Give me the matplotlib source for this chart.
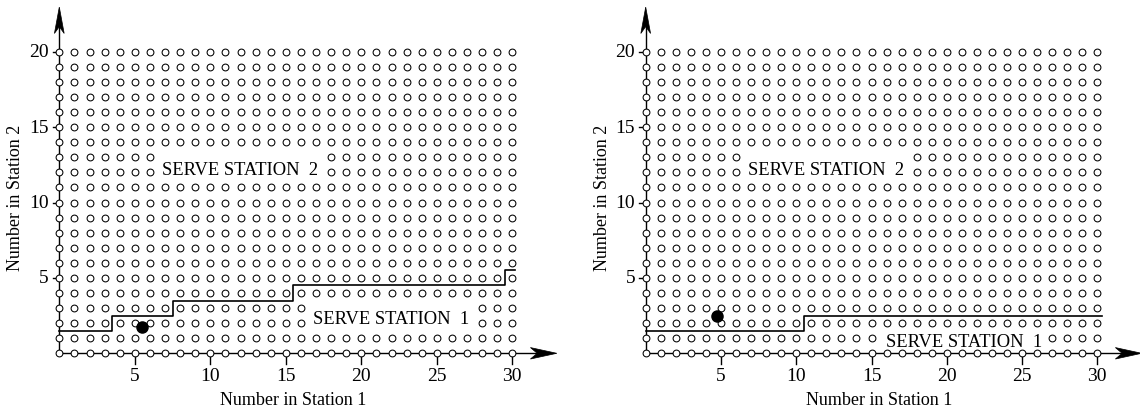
import matplotlib
matplotlib.use('Agg')
import matplotlib.pyplot as plt
from matplotlib.patches import Polygon

plt.rcParams['font.family'] = ['Liberation Serif', 'DejaVu Serif']

# grid of states
n1_max = 30
n2_max = 20

# switching curves (step boundaries)
left_curve_x = [0, 3.5, 7.5, 15.5, 29.5, 30.2]
left_curve_y = [1.5, 2.5, 3.5, 4.5, 5.5, 5.5]
right_curve_x = [0, 10.5, 30.3]
right_curve_y = [1.5, 2.5, 2.5]

# current state marker
left_dot = (5.5, 1.75)
right_dot = (4.75, 2.45)

x_ticks = [5, 10, 15, 20, 25, 30]
y_ticks = [5, 10, 15, 20]

# region labels: (text, x, baseline y, blanked columns, blanked rows)
left_labels = [('SERVE STATION  2', 12.0, 11.9, range(7, 18), [12, 13]),
               ('SERVE STATION  1', 22.0, 2.0, range(17, 28), [2, 3])]
right_labels = [('SERVE STATION  2', 12.0, 11.92, range(7, 18), [12, 13]),
                ('SERVE STATION  1', 21.15, 0.46, range(16, 27), [1])]


def arrow_head(ax, tip, direction):
    L, w, notch = 1.75, 0.38, 0.45
    tx, ty = tip
    if direction == 'x':
        pts = [(tx, ty), (tx - L, ty + w), (tx - L + notch, ty), (tx - L, ty - w)]
    else:
        pts = [(tx, ty), (tx - w * 0.85, ty - L), (tx, ty - L + notch), (tx + w * 0.85, ty - L)]
    ax.add_patch(Polygon(pts, closed=True, facecolor='black', edgecolor='black',
                         lw=0.5, clip_on=False, zorder=5))


def draw_panel(ax, cx, cy, dot, labels):
    ax.set_xlim(0, n1_max)
    ax.set_ylim(0, n2_max)
    ax.axis('off')

    blank = set()
    for _, _, _, cols, rows in labels:
        for c in cols:
            for r in rows:
                blank.add((c, r))

    xs, ys = [], []
    for i in range(n1_max + 1):
        for j in range(n2_max + 1):
            if (i, j) not in blank:
                xs.append(i)
                ys.append(j)

    # axes with arrows
    ax.plot([0, 32.2], [0, 0], color='black', lw=1.0, clip_on=False, zorder=2)
    ax.plot([0, 0], [0, 22.3], color='black', lw=1.0, clip_on=False, zorder=2)
    arrow_head(ax, (32.95, 0), 'x')
    arrow_head(ax, (0, 22.96), 'y')

    for t in x_ticks:
        ax.plot([t, t], [0, -0.7], color='black', lw=1.0, clip_on=False, zorder=2)
        ax.text(t, -1.5, str(t), ha='center', va='center', fontsize=14)
    for t in y_ticks:
        ax.plot([0, -0.45], [t, t], color='black', lw=1.0, clip_on=False, zorder=2)
        ax.text(-0.7, t, str(t), ha='right', va='center', fontsize=14)

    ax.plot(xs, ys, 'o', ms=4.9, mfc='white', mec='black', mew=0.75,
            clip_on=False, zorder=3, ls='none')

    ax.plot(cx, cy, drawstyle='steps-post', color='black', lw=1.2,
            clip_on=False, zorder=4)
    ax.plot(dot[0], dot[1], 'o', ms=8, color='black', clip_on=False, zorder=6)

    for txt, x, y, _, _ in labels:
        ax.text(x, y, txt, ha='center', va='baseline', fontsize=13.3)

    ax.text(15.5, -3.05, 'Number in Station 1', ha='center', va='center', fontsize=13)
    ax.text(-2.9, 10.4, 'Number in Station 2', ha='center', va='center',
            rotation=90, fontsize=13)


fig = plt.figure(figsize=(11.4, 4.1), dpi=100)
ax1 = fig.add_axes([59.3 / 1140, 55.7 / 410, 453 / 1140, 301.6 / 410])
ax2 = fig.add_axes([645.7 / 1140, 55.7 / 410, 451.6 / 1140, 301.6 / 410])

draw_panel(ax1, left_curve_x, left_curve_y, left_dot, left_labels)
draw_panel(ax2, right_curve_x, right_curve_y, right_dot, right_labels)

fig.savefig('out.png', dpi=100)
